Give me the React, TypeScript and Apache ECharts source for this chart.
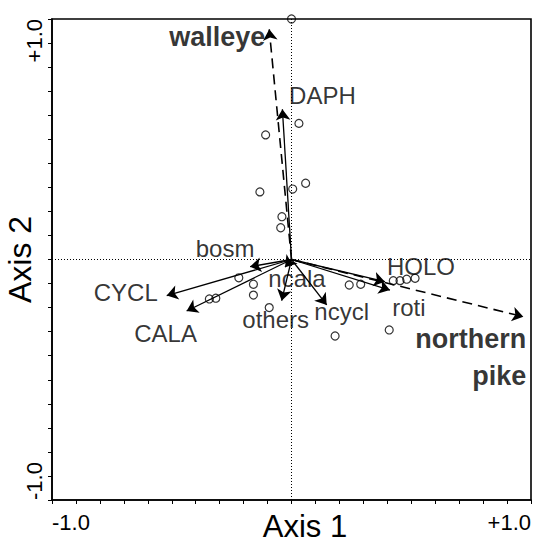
import React, { useEffect, useRef } from "react";
import * as echarts from "echarts";

// Site scores (Axis 1, Axis 2)
const siteX = [0.0, 0.031, -0.108, 0.059, 0.005, -0.132, -0.04, -0.045, -0.22, -0.159, -0.159, -0.343, -0.316, -0.093, 0.182, 0.241, 0.289, 0.425, 0.453, 0.481, 0.516, 0.408];
const siteY = [1.0, 0.566, 0.518, 0.317, 0.293, 0.281, 0.178, 0.132, -0.076, -0.103, -0.148, -0.164, -0.161, -0.2, -0.318, -0.106, -0.103, -0.088, -0.088, -0.082, -0.078, -0.293];

// Zooplankton taxa vectors
const taxaNames = ["DAPH", "bosm", "ncala", "others", "ncycl", "HOLO", "roti", "CYCL", "CALA"];
const taxaX = [-0.038, -0.173, -0.027, -0.041, 0.147, 0.39, 0.411, -0.521, -0.438];
const taxaY = [0.625, -0.03, -0.032, -0.171, -0.189, -0.092, -0.127, -0.15, -0.214];

// Fish vectors (explanatory variables)
const fishNames = ["walleye", "northern pike"];
const fishX = [-0.093, 0.968];
const fishY = [0.957, -0.238];

// Axis text
const xTickLabels = ["-1.0", "+1.0"];
const yTickLabels = ["-1.0", "+1.0"];
const axisTitles = ["Axis 1", "Axis 2"];

const FONT = 'Arial, "Liberation Sans", Helvetica, sans-serif';

// Label placement relative to each arrow tip (pixels)
const labelOffsets: Record<string, [number, number]> = {
  DAPH: [40, -14],
  bosm: [-25, -18],
  ncala: [12, 11],
  others: [-6, 19],
  ncycl: [15, 7],
  HOLO: [36, -15],
  roti: [19, 17],
  CYCL: [-41, -3],
  CALA: [-21, 23],
  walleye: [-52, 8],
  "northern pike": [3, 41],
};

const tickFmt = (labels: string[]) => (v: number) => {
  if (Math.abs(v + 1) < 1e-9) return labels[0];
  if (Math.abs(v - 1) < 1e-9) return labels[1];
  return "";
};

export default function App() {
  const ref = useRef<HTMLDivElement>(null);

  useEffect(() => {
    if (!ref.current) return;
    const chart = echarts.init(ref.current, null, { renderer: "svg" });

    const arrowSeries = (names: string[], xs: number[], ys: number[], dashed: boolean) => ({
      type: "lines",
      coordinateSystem: "cartesian2d",
      silent: true,
      symbol: ["none", "arrow"],
      symbolSize: [8, 11],
      z: 3,
      lineStyle: {
        color: "#000",
        width: dashed ? 1.6 : 1.3,
        type: dashed ? [10, 6] : "solid",
        opacity: 1,
      },
      data: names.map((n, i) => ({ name: n, coords: [[0, 0], [xs[i], ys[i]]] })),
    });

    const labelSeries = (names: string[], xs: number[], ys: number[], bold: boolean) => ({
      type: "scatter",
      silent: true,
      symbolSize: 0.1,
      itemStyle: { color: "rgba(0,0,0,0)" },
      z: 5,
      data: names.map((n, i) => {
        const multi = n.includes(" ");
        return {
          name: n,
          value: [xs[i], ys[i]],
          label: {
            show: true,
            position: "inside",
            formatter: multi ? n.replace(" ", "\n") : n,
            align: multi ? "right" : "center",
            verticalAlign: "middle",
            offset: labelOffsets[n],
            fontFamily: FONT,
            fontSize: bold ? 27 : 24,
            fontWeight: bold ? "bold" : "normal",
            lineHeight: multi ? 37 : undefined,
            color: "#000",
            textBorderWidth: 0,
          },
        };
      }),
    });

    chart.setOption({
      animation: false,
      grid: {
        left: 52,
        top: 19,
        right: 8,
        bottom: 46,
        show: true,
        borderColor: "#000",
        borderWidth: 1.6,
        containLabel: false,
        outerBoundsMode: "none",
      },
      xAxis: {
        type: "value",
        min: -1,
        max: 1,
        interval: 0.1,
        axisLine: { show: true, onZero: false, lineStyle: { color: "#000", width: 1.6 } },
        axisTick: { show: true, inside: false, length: 4, lineStyle: { color: "#000", width: 1 } },
        splitLine: { show: false },
        axisLabel: {
          formatter: tickFmt(xTickLabels),
          fontFamily: FONT,
          fontSize: 22,
          color: "#000",
          margin: 11,
          showMinLabel: true,
          showMaxLabel: true,
          alignMinLabel: "left",
          alignMaxLabel: "right",
          hideOverlap: false,
        },
        name: axisTitles[0],
        nameLocation: "middle",
        nameGap: 11,
        nameMoveOverlap: false,
        nameTextStyle: {
          fontFamily: FONT,
          fontSize: 31,
          lineHeight: 31,
          color: "#000",
          verticalAlign: "top",
          padding: [0, 0, 0, 27],
        },
      },
      yAxis: {
        type: "value",
        min: -1,
        max: 1,
        interval: 0.1,
        axisLine: { show: true, onZero: false, lineStyle: { color: "#000", width: 1.6 } },
        axisTick: { show: true, inside: false, length: 4, lineStyle: { color: "#000", width: 1 } },
        splitLine: { show: false },
        axisLabel: {
          formatter: tickFmt(yTickLabels),
          fontFamily: FONT,
          fontSize: 22,
          color: "#000",
          rotate: 90,
          margin: 7,
          showMinLabel: true,
          showMaxLabel: true,
          alignMinLabel: "left",
          alignMaxLabel: "right",
          hideOverlap: false,
        },
        name: axisTitles[1],
        nameLocation: "middle",
        nameGap: 16,
        nameMoveOverlap: false,
        nameTextStyle: {
          fontFamily: FONT,
          fontSize: 32,
          color: "#000",
        },
      },
      series: [
        {
          type: "scatter",
          silent: true,
          symbol: "circle",
          symbolSize: 8,
          z: 4,
          itemStyle: { color: "rgba(255,255,255,0)", borderColor: "#000", borderWidth: 1.2 },
          data: siteX.map((x, i) => [x, siteY[i]]),
          markLine: {
            silent: true,
            symbol: "none",
            label: { show: false },
            lineStyle: { color: "#000", width: 1, type: [1, 2] },
            data: [{ xAxis: 0 }, { yAxis: 0 }],
          },
        },
        arrowSeries(taxaNames, taxaX, taxaY, false),
        arrowSeries(fishNames, fishX, fishY, true),
        labelSeries(taxaNames, taxaX, taxaY, false),
        labelSeries(fishNames, fishX, fishY, true),
      ],
    });

    return () => chart.dispose();
  }, []);

  return (
    <div
      ref={ref}
      style={{ position: "fixed", left: 0, top: 0, width: 539, height: 546, background: "#fff" }}
    />
  );
}
